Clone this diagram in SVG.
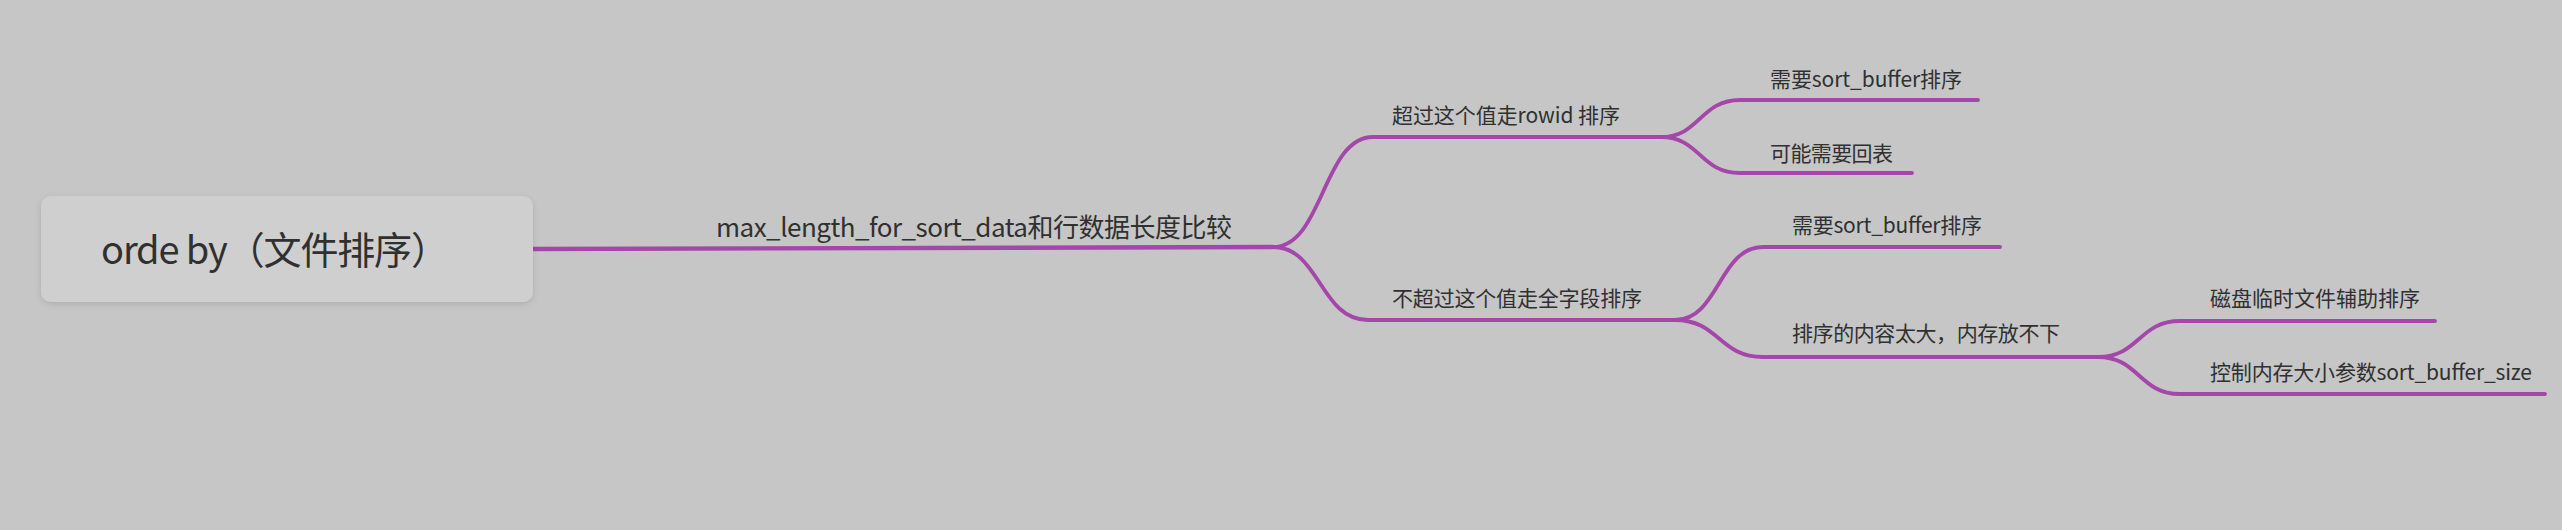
<svg xmlns="http://www.w3.org/2000/svg" width="2562" height="530" viewBox="0 0 2562 530">
<defs>
<filter id="sh" x="-10%" y="-20%" width="120%" height="150%">
<feDropShadow dx="0" dy="2" stdDeviation="3" flood-color="#000" flood-opacity="0.12"/>
</filter>
</defs>
<style>
.t{font-family:"Noto Sans CJK SC","Noto Sans",sans-serif;fill:#303030;}
.c{fill:none;stroke:#a446aa;stroke-width:3.8;stroke-linecap:round;stroke-linejoin:round;}
</style>
<rect x="0" y="0" width="2562" height="530" fill="#c6c6c6"/>
<g id="connectors">
<path class="c" style="stroke-width:4.4" d="M533,249 L1273,247"/>
<path class="c" d="M1273,247 C1323,247 1323,137 1373,137 L1663,137"/>
<path class="c" d="M1273,247 C1320,247 1320,320 1368,320 L1675,320"/>
<path class="c" d="M1661,137 C1700,137 1700,100 1740,100 L1978,100"/>
<path class="c" d="M1661,137 C1700,137 1700,173 1740,173 L1912,173"/>
<path class="c" d="M1675,320 C1719,320 1719,247 1763,247 L2000,247"/>
<path class="c" d="M1675,320 C1719,320 1719,357 1763,357 L2100,357"/>
<path class="c" d="M2098,357 C2139,357 2139,321 2180,321 L2435,321"/>
<path class="c" d="M2098,357 C2139,357 2139,394 2180,394 L2545,394"/>
</g>
<g id="root">
<rect x="41" y="196" width="492" height="106" rx="10" fill="#cfcfcf" filter="url(#sh)"/>
<text class="t" x="101" y="264" font-size="38" textLength="348">orde by（文件排序）</text>
</g>
<g id="n-compare">
<text class="t" x="716" y="237" font-size="26" textLength="516">max_length_for_sort_data和行数据长度比较</text>
</g>
<g id="n-rowid">
<text class="t" x="1392" y="123" font-size="21" textLength="228">超过这个值走rowid 排序</text>
</g>
<g id="n-full">
<text class="t" x="1392" y="306" font-size="21" textLength="250">不超过这个值走全字段排序</text>
</g>
<g id="n-rowid-buffer">
<text class="t" x="1770" y="87" font-size="21" textLength="192">需要sort_buffer排序</text>
</g>
<g id="n-rowid-back">
<text class="t" x="1770" y="161" font-size="21" textLength="123">可能需要回表</text>
</g>
<g id="n-full-buffer">
<text class="t" x="1792" y="233" font-size="21" textLength="190">需要sort_buffer排序</text>
</g>
<g id="n-full-big">
<text class="t" x="1792" y="341" font-size="21" textLength="268">排序的内容太大，内存放不下</text>
</g>
<g id="n-disk">
<text class="t" x="2210" y="306" font-size="21" textLength="210">磁盘临时文件辅助排序</text>
</g>
<g id="n-size">
<text class="t" x="2210" y="380" font-size="21" textLength="322">控制内存大小参数sort_buffer_size</text>
</g>
</svg>
